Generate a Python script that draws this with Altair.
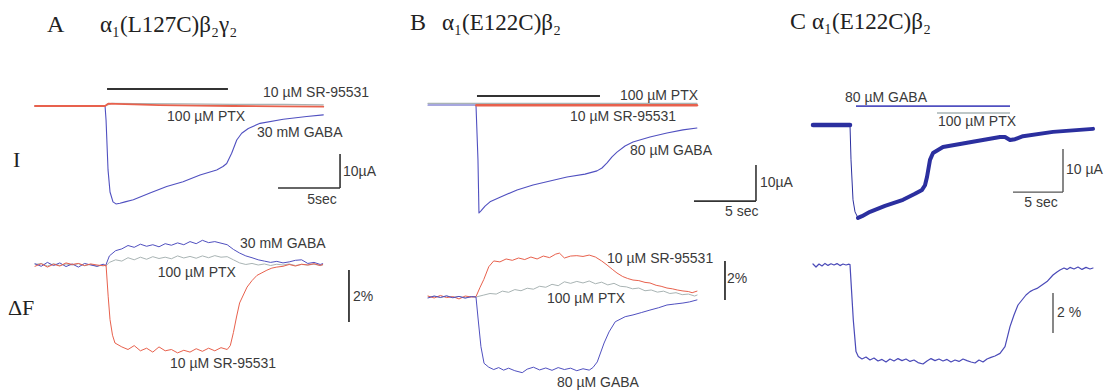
import altair as alt
import pandas as pd

# ---------------- colours ----------------
BLUE = "#5050c0"
RED = "#e8614d"
GRAY = "#a9b4b4"
DBLUE = "#2b2f9f"
INK = "#333333"

# ---------------- Panel A : current (uA) vs time (s) ----------------
A_I_gaba_t = [0, 5.65, 5.73, 5.89, 6.05, 6.29, 6.53, 6.85, 7.26, 7.93, 9.27, 10.62, 11.94, 13.31,
              14.65, 15.16, 15.46, 15.86, 16.27, 16.67, 17.2, 18.15, 20.02, 21.91, 23.25]
A_I_gaba = [0, 0, -4.1, -18.8, -25.3, -28.2, -28.8, -28.6, -28.2, -27.6, -25.6, -23.7, -22.3, -20.3,
            -18.8, -17.8, -16.9, -13.9, -10.0, -8.0, -6.6, -5.1, -3.9, -3.1, -2.6]
A_I_sr_t = [0, 5.65, 5.9, 6.5, 8, 10, 13, 16, 20, 23.25]
A_I_sr = [0, 0, 0.7, 0.6, 0.45, 0.25, 0.1, 0.0, -0.1, -0.2]
A_I_ptx_t = [0, 5.65, 6.2, 8, 12, 16, 20, 23.25]
A_I_ptx = [0, 0, 0.8, 0.7, 0.6, 0.5, 0.45, 0.35]

# ---------------- Panel A : fluorescence (%) ----------------
A_F_t = [0, 0.5, 1, 1.5, 2, 2.5, 3, 3.5, 4, 4.5, 5, 5.5, 5.7, 6.0, 6.5, 7, 7.5, 8, 8.5, 9, 9.5, 10,
         10.5, 11, 11.5, 12, 12.5, 13, 13.5, 14, 14.5, 15, 15.5, 16, 16.5, 17, 17.5, 18, 18.5, 19,
         19.5, 20, 20.5, 21, 21.5, 22, 22.5, 23, 23.2]
A_F_gaba = [0.05, -0.05, 0.1, -0.02, 0.08, -0.06, 0.04, -0.08, 0.06, 0.0, -0.05, 0.03, -0.02,
            0.35, 0.55, 0.62, 0.75, 0.68, 0.8, 0.72, 0.78, 0.7, 0.82, 0.76, 0.85, 0.78, 0.9, 0.82,
            0.95, 0.86, 0.9, 0.84, 0.78, 0.6, 0.46, 0.35, 0.28, 0.2, 0.15, 0.1, 0.14, 0.08, 0.12,
            0.18, 0.2, 0.06, 0.1, 0.02, 0.05]
A_F_ptx = [0.02, 0.06, -0.04, 0.05, -0.02, 0.04, 0.0, 0.05, -0.03, 0.03, -0.05, 0.0, -0.04,
           0.1, 0.2, 0.15, 0.28, 0.2, 0.3, 0.22, 0.32, 0.25, 0.3, 0.24, 0.35, 0.27, 0.33, 0.26,
           0.35, 0.28, 0.36, 0.3, 0.32, 0.2, 0.08, 0.02, 0.06, 0.0, 0.04, -0.02, 0.03, 0.0, 0.04,
           -0.02, 0.02, 0.0, 0.03, -0.02, 0.0]
A_F_sr_t = [0, 0.5, 1, 1.5, 2, 2.5, 3, 3.5, 4, 4.5, 5, 5.5, 5.73, 5.9, 6.05, 6.25, 6.45, 7, 7.5, 8,
            8.5, 9, 9.5, 10, 10.5, 11, 11.5, 12, 12.5, 13, 13.5, 14, 14.5, 15, 15.5, 15.75, 16,
            16.25, 16.5, 17.1, 17.5, 17.9, 18.3, 18.7, 19.1, 19.5, 20, 20.5, 21, 21.5, 22, 22.5,
            23, 23.2]
A_F_sr = [-0.05, 0.05, -0.08, 0.03, -0.04, 0.08, 0.02, 0.06, -0.02, 0.04, 0.0, -0.03, 0.0, -1.2,
          -2.1, -2.7, -3.0, -3.15, -3.25, -3.1, -3.3, -3.2, -3.35, -3.15, -3.3, -3.25, -3.38, -3.28,
          -3.35, -3.22, -3.32, -3.2, -3.3, -3.18, -3.25, -3.1, -2.6, -2.0, -1.46, -0.85, -0.6, -0.4,
          -0.3, -0.2, -0.12, -0.08, -0.05, 0.02, -0.04, 0.03, 0.0, 0.05, -0.02, 0.02]

# ---------------- Panel B : current ----------------
B_I_gaba_t = [0, 3.87, 4.03, 4.11, 4.27, 4.6, 5.0, 5.81, 7.18, 8.47, 9.84, 11.21, 12.66, 13.63,
              14.03, 14.44, 14.84, 15.24, 15.89, 16.53, 17.9, 19.27, 20.56, 21.69]
B_I_gaba = [0, 0, -15.3, -30.0, -29.4, -28.1, -26.9, -25.6, -23.6, -22.2, -21.1, -20.0, -19.2, -18.3,
            -17.5, -16.1, -14.4, -13.1, -11.4, -10.3, -8.9, -7.8, -6.9, -6.4]
B_I_ptx_t = [0, 21.69]
B_I_ptx = [0.45, 0.45]
B_I_sr_t = [3.9, 21.69]
B_I_sr = [-0.1, -0.1]

# ---------------- Panel B : fluorescence ----------------
B_F_sr_t = [0, 0.5, 1, 1.5, 2, 2.5, 3, 3.5, 3.87, 4.2, 4.5, 4.9, 5.3, 5.8, 6.3, 6.8, 7.3, 7.8, 8.3,
            8.8, 9.3, 9.8, 10.3, 10.6, 11, 11.5, 12, 12.5, 13, 13.5, 14, 14.44, 14.9, 15.24, 15.7,
            16.1, 16.53, 17, 17.5, 17.9, 18.4, 18.8, 19.27, 19.7, 20.1, 20.56, 21, 21.3, 21.69]
B_F_sr = [0.05, -0.05, 0.08, -0.03, 0.02, -0.1, 0.05, 0.0, 0.02, 0.5, 0.9, 1.55, 1.85, 1.8, 1.95,
          1.88, 2.0, 1.92, 2.05, 1.95, 2.1, 2.02, 2.2, 2.25, 2.0, 2.1, 2.12, 2.08, 2.15, 2.05, 1.85,
          1.64, 1.4, 1.23, 1.05, 0.95, 0.87, 0.84, 0.75, 0.72, 0.6, 0.55, 0.46, 0.42, 0.36, 0.31,
          0.28, 0.22, 0.3]
B_F_ptx_t = [0, 0.5, 1, 1.5, 2, 2.5, 3, 3.5, 3.87, 4.5, 5, 5.5, 6, 6.5, 7, 7.5, 8, 8.5, 9, 9.5, 10,
             10.5, 11, 11.5, 12, 12.5, 13, 13.5, 14, 14.5, 15, 15.5, 16, 16.5, 17, 17.5, 18, 18.5,
             19, 19.5, 20, 20.5, 21, 21.5, 21.7]
B_F_ptx = [0.0, 0.04, -0.03, 0.05, -0.02, 0.03, -0.04, 0.02, 0.0, 0.1, 0.18, 0.15, 0.3, 0.24, 0.38,
           0.32, 0.45, 0.4, 0.55, 0.5, 0.65, 0.58, 0.78, 0.7, 0.8, 0.72, 0.82, 0.68, 0.76, 0.62, 0.7,
           0.55, 0.52, 0.42, 0.46, 0.32, 0.36, 0.25, 0.3, 0.18, 0.22, 0.12, 0.15, 0.05, 0.1]
B_F_gaba_t = [0, 0.5, 1, 1.5, 2, 2.5, 3, 3.5, 3.87, 4.05, 4.27, 4.52, 4.9, 5.3, 5.7, 6.1, 6.5, 7.0,
              7.6, 8.0, 8.5, 9.0, 9.5, 10.0, 10.5, 11.0, 11.5, 12.0, 12.5, 13.0, 13.3, 13.65, 14.2,
              14.6, 15.1, 15.9, 16.53, 17.2, 17.9, 18.6, 19.27, 19.9, 20.56, 21.1, 21.69]
B_F_gaba = [-0.05, 0.05, -0.02, 0.06, -0.04, 0.03, -0.06, 0.02, 0.0, -1.18, -2.55, -3.4, -3.6, -3.72,
            -3.62, -3.75, -3.65, -3.78, -3.88, -3.7, -3.6, -3.74, -3.64, -3.76, -3.62, -3.72, -3.65,
            -3.78, -3.68, -3.75, -3.62, -3.33, -2.36, -1.79, -1.27, -1.01, -0.92, -0.8, -0.67,
            -0.55, -0.41, -0.36, -0.31, -0.25, -0.15]

# ---------------- Panel C : current and fluorescence ----------------
C_I_t = [0, 3.7, 3.8, 4.0, 4.2, 4.5, 4.9, 5.7, 7.2, 9.0, 10.2, 10.9, 11.2, 11.4, 11.7, 12.0, 13.0,
         15.7, 18.7, 19.2, 19.7, 20.2, 21.0, 24.0, 28.0]
C_I = [0, 0, -8.1, -17.4, -20.2, -21.6, -21.2, -20.2, -18.8, -17.4, -16.0, -15.1, -14.0, -12.1,
       -8.1, -6.5, -5.1, -4.0, -2.8, -2.8, -3.5, -3.3, -2.6, -1.6, -0.9]
C_F_t = [0, 0.3, 0.6, 0.9, 1.2, 1.5, 1.8, 2.1, 2.4, 2.7, 3.0, 3.3, 3.6, 3.7, 4.03, 4.3, 4.53, 4.9,
         5.3, 5.7, 6.1, 6.5, 6.9, 7.3, 7.7, 8.1, 8.5, 8.9, 9.3, 9.7, 10.1, 10.5, 11.0, 11.4, 11.8,
         12.2, 12.6, 13.0, 13.4, 13.8, 14.2, 14.6, 15.0, 15.4, 15.8, 16.2, 16.6, 17.0, 17.4, 17.8,
         18.2, 18.7, 19.2, 19.7, 20.1, 20.5, 20.9, 21.3, 21.7, 22.0, 22.4, 22.9, 23.4, 24.0, 24.4,
         24.7, 25.1, 25.4, 25.7, 26.1, 26.5, 26.9, 27.3, 27.7, 28.0]
C_F = [0.05, -0.1, 0.05, -0.05, 0.08, -0.02, 0.06, 0.0, 0.07, -0.03, 0.05, 0.0, 0.04, 0.02,
       -2.75, -4.33, -4.58, -4.7, -4.6, -4.75, -4.65, -4.8, -4.72, -4.85, -4.7, -4.8, -4.68, -4.78,
       -4.7, -4.82, -4.75, -4.88, -4.95, -4.8, -4.68, -4.78, -4.7, -4.8, -4.72, -4.85, -4.75, -4.82,
       -4.7, -4.78, -4.85, -4.9, -4.75, -4.85, -4.7, -4.62, -4.55, -4.42, -4.08, -3.08, -2.5, -2.0,
       -1.75, -1.5, -1.33, -1.25, -1.17, -1.0, -0.83, -0.5, -0.35, -0.25, -0.15, -0.22, -0.12,
       -0.2, -0.1, -0.22, -0.12, -0.2, -0.15]

# ---------------- annotation values (data units of each panel) ----------------
# segments: t, v, t2, v2, colour, width
A_I_segs = [(5.81, 5.0, 15.56, 5.0, INK, 2), (24.6, -14.1, 24.6, -24.1, INK, 1.6),
            (19.6, -24.1, 24.6, -24.1, INK, 1.6)]
A_F_segs = [(25.32, -0.19, 25.32, -2.19, INK, 1.8)]
B_I_segs = [(3.95, 2.5, 13.87, 2.5, INK, 2), (26.45, -16.7, 26.45, -26.7, INK, 1.6),
            (21.45, -26.7, 26.45, -26.7, INK, 1.6)]
B_F_segs = [(23.95, 1.85, 23.95, -0.15, INK, 1.8)]
C_I_segs = [(4.3, 4.4, 19.7, 4.4, BLUE, 1.8), (12.4, 2.8, 19.7, 2.8, GRAY, 1.5),
            (25.0, -5.6, 25.0, -15.6, "#555555", 1.4), (20.0, -15.6, 25.0, -15.6, "#555555", 1.4)]
C_F_segs = [(24.0, -1.4, 24.0, -3.4, "#555555", 1.4)]

# labels: t, v, text, align
A_I_labels = [(18.39, 3.8, "10 µM SR-95531", "left"), (10.65, -3.2, "100 µM PTX", "left"),
              (17.9, -7.9, "30 mM GABA", "left"), (24.84, -19.4, "10µA", "left"),
              (23.15, -27.6, "5sec", "center")]
A_F_labels = [(16.53, 0.81, "30 mM GABA", "left"), (9.9, -0.31, "100 µM PTX", "left"),
              (10.89, -3.81, "10 µM SR-95531", "left"), (25.65, -1.23, "2%", "left")]
B_I_labels = [(15.48, 2.5, "100 µM PTX", "left"), (11.45, -3.33, "10 µM SR-95531", "left"),
              (16.29, -12.8, "80 µM GABA", "left"), (26.77, -21.7, "10µA", "left"),
              (25.3, -29.7, "5 sec", "center")]
B_F_labels = [(14.44, 1.95, "10 µM SR-95531", "left"), (9.6, -0.1, "100 µM PTX", "left"),
              (10.4, -4.41, "80 µM GABA", "left"), (24.11, 0.92, "2%", "left")]
C_I_labels = [(3.2, 6.28, "80 µM GABA", "left"), (12.5, 0.7, "100 µM PTX", "left"),
              (25.3, -10.5, "10 µA", "left"), (22.8, -18.1, "5 sec", "center")]
C_F_labels = [(24.4, -2.4, "2 %", "left")]

# serif headings: t, v, text, size
A_I_heads = [(0.97, 23.8, "A", 24), (5.24, 23.8, "α₁(L127C)β₂γ₂", 23), (-1.77, -15.9, "I", 22)]
A_F_heads = [(-2.18, -1.65, "ΔF", 22)]
B_I_heads = [(-1.45, 22.8, "B", 24), (1.13, 22.8, "α₁(E122C)β₂", 23)]
C_I_heads = [(-2.3, 24.0, "C", 24), (-0.1, 24.0, "α₁(E122C)β₂", 23)]

# scale settings (domain -> pixel range)
SC = {
    "A_x": ([0, 27], [35, 369.8]),
    "B_x": ([0, 27], [428, 762.8]),
    "C_x": ([0, 30], [813, 1113]),
    "A_I": ([-35, 8], [225, 78.8]),
    "A_F": ([-4, 2], [369, 213]),
    "B_I": ([-35, 8], [231, 76.2]),
    "B_F": ([-5, 3], [394.5, 238.5]),
    "C_I": ([-25, 8], [232.5, 90.6]),
    "C_F": ([-6, 2], [385, 225]),
}


def enc(xkey, ykey):
    xd, xr = SC[xkey]
    yd, yr = SC[ykey]
    x = alt.X("t:Q", scale=alt.Scale(domain=xd, range=xr, nice=False, zero=False), axis=None)
    y = alt.Y("v:Q", scale=alt.Scale(domain=yd, range=yr, nice=False, zero=False), axis=None)
    return x, y


def trace(t, v, color, width, xkey, ykey, filt=None):
    x, y = enc(xkey, ykey)
    ch = alt.Chart(pd.DataFrame({"t": t, "v": v}))
    if filt is not None:
        ch = ch.transform_filter(filt)
    return ch.mark_line(color=color, strokeWidth=width, strokeJoin="round",
                        strokeCap="round").encode(x=x, y=y)


def segs(rows, xkey, ykey):
    x, y = enc(xkey, ykey)
    out = []
    for t, v, t2, v2, c, w in rows:
        df = pd.DataFrame({"t": [t], "v": [v], "t2": [t2], "v2": [v2]})
        out.append(alt.Chart(df).mark_rule(color=c, strokeWidth=w).encode(
            x=x, y=y, x2="t2:Q", y2="v2:Q"))
    return out


def labels(rows, xkey, ykey):
    x, y = enc(xkey, ykey)
    out = []
    for t, v, s, al in rows:
        df = pd.DataFrame({"t": [t], "v": [v], "s": [s]})
        out.append(alt.Chart(df).mark_text(align=al, baseline="middle", font="Liberation Sans",
                                           fontSize=14, color="#3a3a3a").encode(x=x, y=y, text="s:N"))
    return out


def heads(rows, xkey, ykey):
    x, y = enc(xkey, ykey)
    out = []
    for t, v, s, fs in rows:
        df = pd.DataFrame({"t": [t], "v": [v], "s": [s]})
        out.append(alt.Chart(df).mark_text(align="left", baseline="middle", font="Liberation Serif",
                                           fontSize=fs, color="#222222").encode(x=x, y=y, text="s:N"))
    return out


panel_AI = alt.layer(
    trace(A_I_gaba_t, A_I_gaba, BLUE, 1.1, "A_x", "A_I"),
    trace(A_I_ptx_t, A_I_ptx, GRAY, 1.2, "A_x", "A_I"),
    trace(A_I_sr_t, A_I_sr, RED, 1.8, "A_x", "A_I"),
    *segs(A_I_segs, "A_x", "A_I"),
    *labels(A_I_labels, "A_x", "A_I"),
    *heads(A_I_heads, "A_x", "A_I"),
)
panel_AF = alt.layer(
    trace(A_F_t, A_F_ptx, GRAY, 1.0, "A_x", "A_F"),
    trace(A_F_t, A_F_gaba, BLUE, 1.0, "A_x", "A_F"),
    trace(A_F_sr_t, A_F_sr, RED, 1.0, "A_x", "A_F"),
    *segs(A_F_segs, "A_x", "A_F"),
    *labels(A_F_labels, "A_x", "A_F"),
    *heads(A_F_heads, "A_x", "A_F"),
)
panel_BI = alt.layer(
    trace(B_I_ptx_t, B_I_ptx, GRAY, 1.2, "B_x", "B_I"),
    trace(B_I_gaba_t, B_I_gaba, BLUE, 1.1, "B_x", "B_I"),
    trace(B_I_sr_t, B_I_sr, RED, 2.5, "B_x", "B_I"),
    *segs(B_I_segs, "B_x", "B_I"),
    *labels(B_I_labels, "B_x", "B_I"),
    *heads(B_I_heads, "B_x", "B_I"),
)
panel_BF = alt.layer(
    trace(B_F_ptx_t, B_F_ptx, GRAY, 1.0, "B_x", "B_F"),
    trace(B_F_sr_t, B_F_sr, RED, 1.0, "B_x", "B_F"),
    trace(B_F_gaba_t, B_F_gaba, BLUE, 1.0, "B_x", "B_F"),
    *segs(B_F_segs, "B_x", "B_F"),
    *labels(B_F_labels, "B_x", "B_F"),
)
panel_CI = alt.layer(
    trace(C_I_t, C_I, DBLUE, 1.0, "C_x", "C_I"),
    trace(C_I_t, C_I, DBLUE, 4.5, "C_x", "C_I", filt=alt.datum.t <= 3.7),
    trace(C_I_t, C_I, DBLUE, 4.0, "C_x", "C_I", filt=alt.datum.t >= 4.5),
    *segs(C_I_segs, "C_x", "C_I"),
    *labels(C_I_labels, "C_x", "C_I"),
    *heads(C_I_heads, "C_x", "C_I"),
)
panel_CF = alt.layer(
    trace(C_F_t, C_F, "#4a4ab8", 1.2, "C_x", "C_F"),
    *segs(C_F_segs, "C_x", "C_F"),
    *labels(C_F_labels, "C_x", "C_F"),
)

chart = alt.layer(
    panel_AI, panel_AF, panel_BI, panel_BF, panel_CI, panel_CF
).resolve_scale(x="independent", y="independent").properties(
    width=1104, height=392, padding=0, autosize=alt.AutoSizeParams(type="none"),
    background="white"
).configure_view(stroke=None)

chart.save("out.html", embed_options={"renderer": "svg", "actions": False})
